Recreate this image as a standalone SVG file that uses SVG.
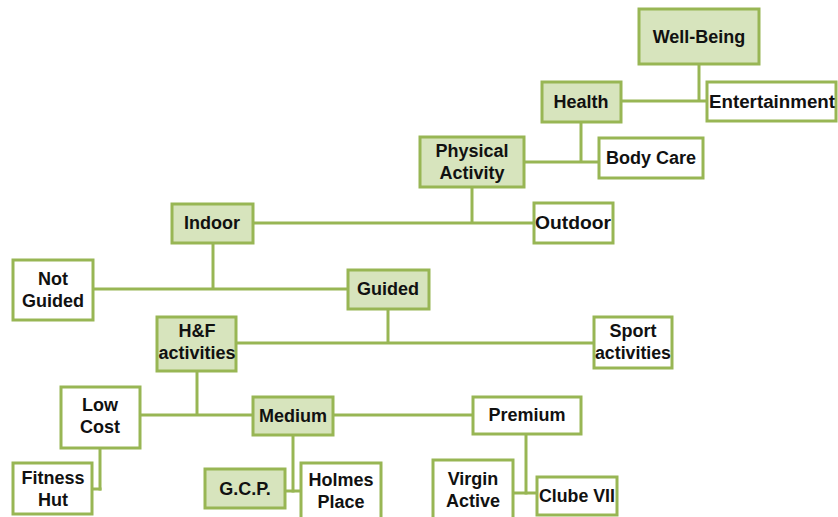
<svg xmlns="http://www.w3.org/2000/svg" width="838" height="517" viewBox="0 0 838 517">
<style>
rect{stroke:#98b654;stroke-width:3}
.g{fill:#d7e4bd}
.w{fill:#ffffff}
text{font-family:"Liberation Sans",Arial,sans-serif;font-weight:bold;font-size:18px;fill:#111;text-anchor:middle}
#connectors line{stroke:#98b654;stroke-width:3;fill:none}
</style>
<rect width="838" height="517" fill="#ffffff" style="stroke:none"/>
<g id="connectors">
<line x1="699" y1="64" x2="699" y2="101"/>
<line x1="621" y1="101" x2="707" y2="101"/>
<line x1="581" y1="122" x2="581" y2="162"/>
<line x1="524" y1="162" x2="599" y2="162"/>
<line x1="472" y1="187" x2="472" y2="223"/>
<line x1="253" y1="223" x2="534" y2="223"/>
<line x1="213" y1="243" x2="213" y2="289"/>
<line x1="93" y1="289" x2="348" y2="289"/>
<line x1="388" y1="309" x2="388" y2="343"/>
<line x1="236" y1="343" x2="594" y2="343"/>
<line x1="197" y1="371" x2="197" y2="415"/>
<line x1="140" y1="415" x2="253" y2="415"/>
<line x1="333" y1="415" x2="473" y2="415"/>
<line x1="100" y1="448" x2="100" y2="490.5"/>
<line x1="101.5" y1="489" x2="92" y2="489"/>
<line x1="293" y1="435" x2="293" y2="492.5"/>
<line x1="285" y1="491" x2="301" y2="491"/>
<line x1="526" y1="434" x2="526" y2="494.5"/>
<line x1="513" y1="493" x2="537" y2="493"/>
</g>
<g id="well-being"><rect class="g" x="639" y="9" width="120" height="55"/><text x="699" y="43">Well-Being</text></g>
<g id="health"><rect class="g" x="542" y="82" width="79" height="40"/><text x="581" y="108">Health</text></g>
<g id="entertainment"><rect class="w" x="707" y="82" width="129" height="39"/><text x="772" y="108" textLength="126" lengthAdjust="spacingAndGlyphs">Entertainment</text></g>
<g id="physical-activity"><rect class="g" x="420" y="137" width="104" height="50"/><text x="472" y="157">Physical</text><text x="472" y="179">Activity</text></g>
<g id="body-care"><rect class="w" x="599" y="138" width="104" height="40"/><text x="651" y="164">Body Care</text></g>
<g id="indoor"><rect class="g" x="172" y="204" width="81" height="39"/><text x="212" y="229">Indoor</text></g>
<g id="outdoor"><rect class="w" x="534" y="203" width="79" height="40"/><text x="573" y="229" textLength="76" lengthAdjust="spacingAndGlyphs">Outdoor</text></g>
<g id="not-guided"><rect class="w" x="13" y="260" width="80" height="60"/><text x="53" y="285">Not</text><text x="53" y="307">Guided</text></g>
<g id="guided"><rect class="g" x="348" y="270" width="81" height="39"/><text x="388" y="295">Guided</text></g>
<g id="hf-activities"><rect class="g" x="157" y="317" width="79" height="54"/><text x="197" y="337">H&amp;F</text><text x="197" y="359">activities</text></g>
<g id="sport-activities"><rect class="w" x="594" y="317" width="78" height="51"/><text x="633" y="337">Sport</text><text x="633" y="359" textLength="76" lengthAdjust="spacingAndGlyphs">activities</text></g>
<g id="low-cost"><rect class="w" x="61" y="387" width="79" height="61"/><text x="100" y="411">Low</text><text x="100" y="433">Cost</text></g>
<g id="medium"><rect class="g" x="253" y="397" width="80" height="38"/><text x="293" y="422">Medium</text></g>
<g id="premium"><rect class="w" x="473" y="397" width="108" height="37"/><text x="527" y="421">Premium</text></g>
<g id="fitness-hut"><rect class="w" x="13" y="463" width="79" height="51"/><text x="53" y="484">Fitness</text><text x="53" y="506">Hut</text></g>
<g id="gcp"><rect class="g" x="205" y="469" width="80" height="39"/><text x="245" y="495">G.C.P.</text></g>
<g id="holmes-place"><rect class="w" x="301" y="463" width="80" height="62"/><text x="341" y="486">Holmes</text><text x="341" y="508">Place</text></g>
<g id="virgin-active"><rect class="w" x="433" y="460" width="80" height="65"/><text x="473" y="485">Virgin</text><text x="473" y="507">Active</text></g>
<g id="clube-vii"><rect class="w" x="537" y="477" width="80" height="38"/><text x="577" y="502" textLength="76" lengthAdjust="spacingAndGlyphs">Clube VII</text></g>
</svg>
